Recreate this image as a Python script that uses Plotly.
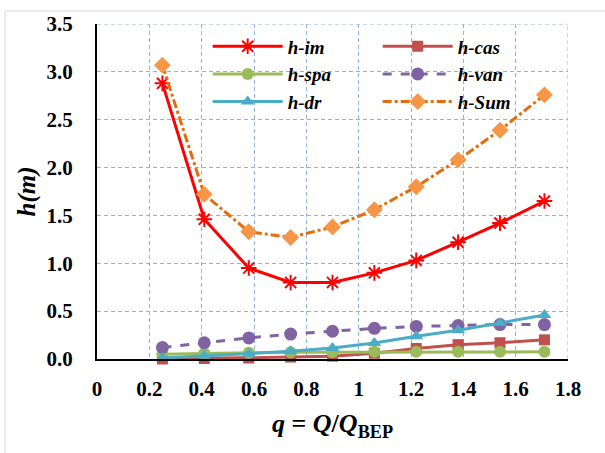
import plotly.graph_objects as go

q = [0.25, 0.41, 0.58, 0.74, 0.90, 1.06, 1.22, 1.38, 1.54, 1.71]
h_im = [2.88, 1.46, 0.95, 0.80, 0.80, 0.90, 1.03, 1.22, 1.42, 1.65]
h_cas = [0.0, 0.005, 0.01, 0.02, 0.03, 0.06, 0.11, 0.15, 0.17, 0.20]
h_spa = [0.05, 0.06, 0.065, 0.07, 0.07, 0.075, 0.075, 0.075, 0.075, 0.075]
h_van = [0.12, 0.17, 0.22, 0.26, 0.29, 0.32, 0.34, 0.35, 0.36, 0.36]
h_dr = [0.01, 0.035, 0.055, 0.08, 0.115, 0.167, 0.237, 0.30, 0.376, 0.46]
h_sum = [3.07, 1.72, 1.33, 1.27, 1.38, 1.56, 1.80, 2.08, 2.39, 2.76]

FONT = "Liberation Serif"
GRID = "#8DB3E2"

fig = go.Figure()

def add(name, y, color, symbol, size, dash="solid", mcolor=None, mline=0):
    fig.add_trace(go.Scatter(
        x=q, y=y, mode="lines+markers", name=name,
        line=dict(color=color, width=3, dash=dash),
        marker=dict(symbol=symbol, size=size, color=mcolor or color,
                    line=dict(color=mcolor or color, width=mline)),
        cliponaxis=False,
    ))

add("<b><i>h-im</i></b>", h_im, "#FF0000", "asterisk-open", 13, mline=2)
add("<b><i>h-cas</i></b>", h_cas, "#C0504D", "square", 11)
add("<b><i>h-spa</i></b>", h_spa, "#9BBB59", "circle", 12)
add("<b><i>h-van</i></b>", h_van, "#8064A2", "circle", 13, dash="dash")
add("<b><i>h-dr</i></b>", h_dr, "#4BACC6", "triangle-up", 12)
add("<b><i>h-Sum</i></b>", h_sum, "#E46C0A", "diamond", 13, dash="dashdot", mcolor="#F79646")

fig.update_layout(
    width=605, height=453,
    margin=dict(l=97, r=37, t=24, b=94),
    paper_bgcolor="white", plot_bgcolor="white",
    font=dict(family=FONT, color="black"),
    showlegend=True,
    legend=dict(
        orientation="h", x=0.235, y=0.99, xanchor="left", yanchor="top",
        entrywidth=85, entrywidthmode="pixels", itemwidth=70,
        bgcolor="rgba(0,0,0,0)", font=dict(family=FONT, size=19, color="black"),
        traceorder="normal",
    ),
    xaxis=dict(
        range=[0, 1.8], dtick=0.2, tick0=0,
        showgrid=True, gridcolor=GRID, griddash="4px,3px", gridwidth=1,
        zeroline=False, showline=True, linecolor="black", linewidth=2,
        ticks="", ticklabelstandoff=10,
        tickfont=dict(family=FONT, size=21, color="black"),
        tickprefix="<b>", ticksuffix="</b>",
        title=dict(text="<b><i>q</i> = <i>Q</i>/<i>Q</i><sub>BEP</sub></b>",
                   font=dict(family=FONT, size=26), standoff=14),
    ),
    yaxis=dict(
        range=[0, 3.5], dtick=0.5, tick0=0, tickformat=".1f",
        showgrid=True, gridcolor=GRID, griddash="4px,3px", gridwidth=1,
        zeroline=False, showline=True, linecolor="black", linewidth=2,
        ticks="", ticklabelstandoff=18,
        tickfont=dict(family=FONT, size=21, color="black"),
        tickprefix="<b>", ticksuffix="</b>",
        title=dict(text="<b><i>h(m)</i></b>", font=dict(family=FONT, size=25), standoff=4),
    ),
)

# top and right dashed border gridlines
fig.add_shape(type="line", xref="x", yref="y", x0=0, x1=1.8, y0=3.5, y1=3.5,
              line=dict(color=GRID, width=1, dash="4px,3px"), layer="below")
fig.add_shape(type="line", xref="x", yref="y", x0=1.8, x1=1.8, y0=0, y1=3.5,
              line=dict(color=GRID, width=1, dash="4px,3px"), layer="below")

# chart frame
fig.add_shape(type="rect", xref="paper", yref="paper",
              x0=-0.1953, x1=1.08, y0=-0.30, y1=1.0388,
              line=dict(color="#D9D9D9", width=1), layer="below")

fig.write_html("out.html", config={"displayModeBar": False},
               post_script="document.body.style.margin='0';")
